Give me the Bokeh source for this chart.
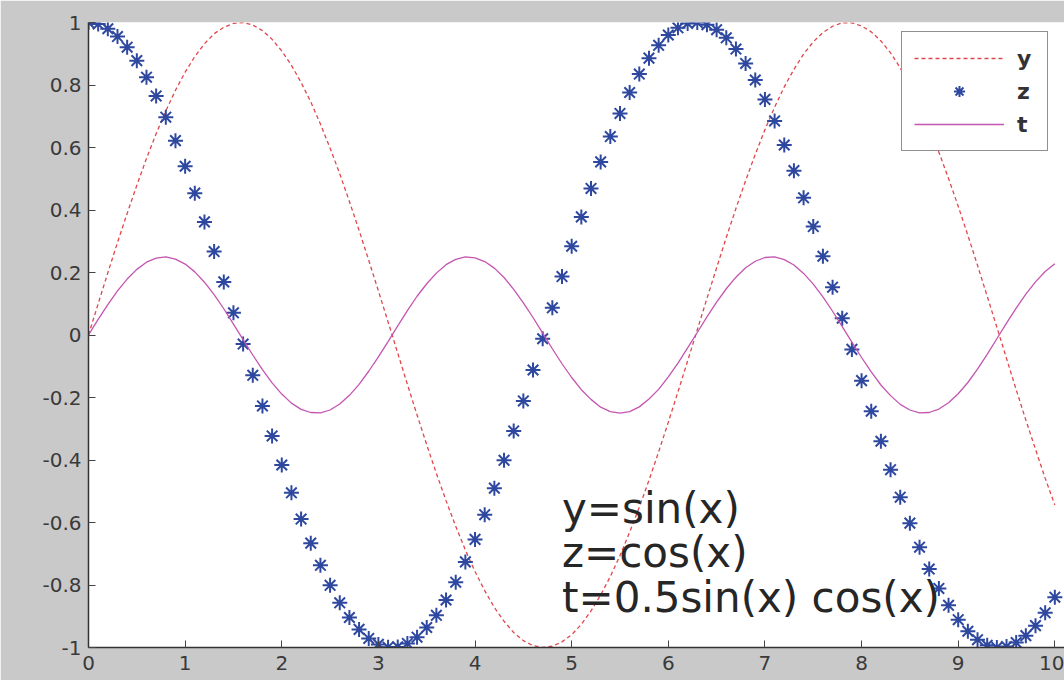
from bokeh.plotting import figure
from bokeh.models import Legend, LegendItem, Label, FixedTicker, Range1d
from bokeh.embed import file_html
from bokeh.resources import INLINE

# ---- data ----
x_vals = [0.0, 0.1, 0.2, 0.3, 0.4, 0.5, 0.6, 0.7, 0.8, 0.9,
          1.0, 1.1, 1.2, 1.3, 1.4, 1.5, 1.6, 1.7, 1.8, 1.9,
          2.0, 2.1, 2.2, 2.3, 2.4, 2.5, 2.6, 2.7, 2.8, 2.9,
          3.0, 3.1, 3.2, 3.3, 3.4, 3.5, 3.6, 3.7, 3.8, 3.9,
          4.0, 4.1, 4.2, 4.3, 4.4, 4.5, 4.6, 4.7, 4.8, 4.9,
          5.0, 5.1, 5.2, 5.3, 5.4, 5.5, 5.6, 5.7, 5.8, 5.9,
          6.0, 6.1, 6.2, 6.3, 6.4, 6.5, 6.6, 6.7, 6.8, 6.9,
          7.0, 7.1, 7.2, 7.3, 7.4, 7.5, 7.6, 7.7, 7.8, 7.9,
          8.0, 8.1, 8.2, 8.3, 8.4, 8.5, 8.6, 8.7, 8.8, 8.9,
          9.0, 9.1, 9.2, 9.3, 9.4, 9.5, 9.6, 9.7, 9.8, 9.9, 10.0]

y_series = [0.000, 0.100, 0.199, 0.296, 0.389, 0.479, 0.565, 0.644, 0.717, 0.783,
            0.841, 0.891, 0.932, 0.964, 0.985, 0.997, 1.000, 0.992, 0.974, 0.946,
            0.909, 0.863, 0.808, 0.746, 0.675, 0.598, 0.516, 0.427, 0.335, 0.239,
            0.141, 0.042, -0.058, -0.158, -0.256, -0.351, -0.443, -0.530, -0.612, -0.688,
            -0.757, -0.818, -0.872, -0.916, -0.952, -0.978, -0.994, -1.000, -0.996, -0.982,
            -0.959, -0.926, -0.883, -0.832, -0.773, -0.706, -0.631, -0.551, -0.465, -0.374,
            -0.279, -0.182, -0.083, 0.017, 0.117, 0.215, 0.312, 0.405, 0.494, 0.578,
            0.657, 0.729, 0.794, 0.850, 0.899, 0.938, 0.968, 0.988, 0.999, 0.999,
            0.989, 0.970, 0.941, 0.903, 0.855, 0.798, 0.734, 0.663, 0.585, 0.501,
            0.412, 0.319, 0.223, 0.124, 0.025, -0.075, -0.175, -0.272, -0.366, -0.458, -0.544]

z_series = [1.000, 0.995, 0.980, 0.955, 0.921, 0.878, 0.825, 0.765, 0.697, 0.622,
            0.540, 0.454, 0.362, 0.267, 0.170, 0.071, -0.029, -0.129, -0.227, -0.323,
            -0.416, -0.505, -0.589, -0.666, -0.737, -0.801, -0.857, -0.904, -0.942, -0.971,
            -0.990, -0.999, -0.998, -0.987, -0.967, -0.936, -0.897, -0.848, -0.791, -0.726,
            -0.654, -0.575, -0.490, -0.401, -0.307, -0.211, -0.112, -0.012, 0.087, 0.187,
            0.284, 0.378, 0.469, 0.554, 0.635, 0.709, 0.776, 0.835, 0.886, 0.927,
            0.960, 0.983, 0.997, 1.000, 0.993, 0.977, 0.951, 0.915, 0.869, 0.816,
            0.754, 0.685, 0.608, 0.526, 0.439, 0.347, 0.252, 0.153, 0.054, -0.046,
            -0.146, -0.244, -0.340, -0.431, -0.519, -0.602, -0.679, -0.749, -0.811, -0.865,
            -0.911, -0.948, -0.975, -0.993, -1.000, -0.997, -0.984, -0.962, -0.930, -0.889, -0.839]

t_series = [0.000, 0.050, 0.097, 0.141, 0.179, 0.210, 0.233, 0.246, 0.250, 0.243,
            0.227, 0.202, 0.169, 0.129, 0.084, 0.035, -0.015, -0.064, -0.111, -0.153,
            -0.189, -0.218, -0.238, -0.248, -0.249, -0.240, -0.221, -0.193, -0.158, -0.116,
            -0.070, -0.021, 0.029, 0.078, 0.124, 0.164, 0.198, 0.225, 0.242, 0.250,
            0.247, 0.235, 0.214, 0.184, 0.146, 0.103, 0.056, 0.006, -0.044, -0.092,
            -0.136, -0.175, -0.206, -0.231, -0.245, -0.250, -0.245, -0.230, -0.205, -0.174,
            -0.134, -0.090, -0.041, 0.008, 0.058, 0.105, 0.148, 0.185, 0.215, 0.236,
            0.248, 0.250, 0.241, 0.224, 0.197, 0.163, 0.122, 0.076, 0.027, -0.023,
            -0.072, -0.118, -0.160, -0.194, -0.222, -0.240, -0.249, -0.248, -0.237, -0.217,
            -0.188, -0.152, -0.109, -0.062, -0.012, 0.038, 0.086, 0.131, 0.170, 0.203, 0.228]

x_ticks = [0, 1, 2, 3, 4, 5, 6, 7, 8, 9, 10]
y_ticks = [-1, -0.8, -0.6, -0.4, -0.2, 0, 0.2, 0.4, 0.6, 0.8, 1]
y_tick_labels = ["-1", "-0.8", "-0.6", "-0.4", "-0.2", "0", "0.2", "0.4", "0.6", "0.8", "1"]
legend_labels = ["y", "z", "t"]
annotations = ["y=sin(x)", "z=cos(x)", "t=0.5sin(x) cos(x)"]

# ---- figure ----
p = figure(width=1064, height=680, output_backend="svg", toolbar_location=None,
           x_range=Range1d(0, 10.1), y_range=Range1d(-1, 1),
           min_border_left=88, min_border_right=0, min_border_top=22, min_border_bottom=33)
p.background_fill_color = "white"
p.border_fill_color = "#c9c9c9"
p.outline_line_color = None
p.xgrid.visible = False
p.ygrid.visible = False

p.xaxis.ticker = FixedTicker(ticks=x_ticks)
p.yaxis.ticker = FixedTicker(ticks=y_ticks)
p.yaxis.major_label_overrides = dict(zip(y_ticks, y_tick_labels))
for ax in (p.xaxis, p.yaxis):
    ax.minor_tick_line_color = None
    ax.major_tick_in = 7
    ax.major_tick_out = 0
    ax.major_tick_line_color = "#444444"
    ax.axis_line_color = "#333333"
    ax.axis_line_width = 1.5
    ax.major_label_text_font = "DejaVu Sans"
    ax.major_label_text_font_size = "20px"
    ax.major_label_text_color = "#3a3a3a"
p.yaxis.major_label_standoff = 7
p.xaxis.major_label_standoff = 8

ry = p.line(x_vals, y_series, line_color="#e0474c", line_dash="4 3", line_width=1.3)
rz = p.scatter(x_vals, z_series, marker="asterisk", size=15, line_color="#2e48a0", line_width=2)
rt = p.line(x_vals, t_series, line_color="#c455b0", line_width=1.3)

legend = Legend(items=[LegendItem(label=legend_labels[0], renderers=[ry]),
                       LegendItem(label=legend_labels[1], renderers=[rz]),
                       LegendItem(label=legend_labels[2], renderers=[rt])],
                location=(813, 496), orientation="vertical",
                border_line_color="#222222", border_line_width=1.5,
                background_fill_color="white", background_fill_alpha=1.0,
                glyph_width=90, glyph_height=28, spacing=5, padding=12,
                label_standoff=13, label_width=18, margin=0,
                label_text_font="DejaVu Sans", label_text_font_size="22px",
                label_text_font_style="bold", label_text_color="#333333")
p.add_layout(legend)

ann_y = [-0.555, -0.696, -0.840]
for txt, yy in zip(annotations, ann_y):
    p.add_layout(Label(x=4.9, y=yy, text=txt, text_font="DejaVu Sans",
                       text_font_size="42px", text_color="#262626",
                       text_baseline="middle", text_align="left"))

open("out.html", "w").write(file_html(p, INLINE))
